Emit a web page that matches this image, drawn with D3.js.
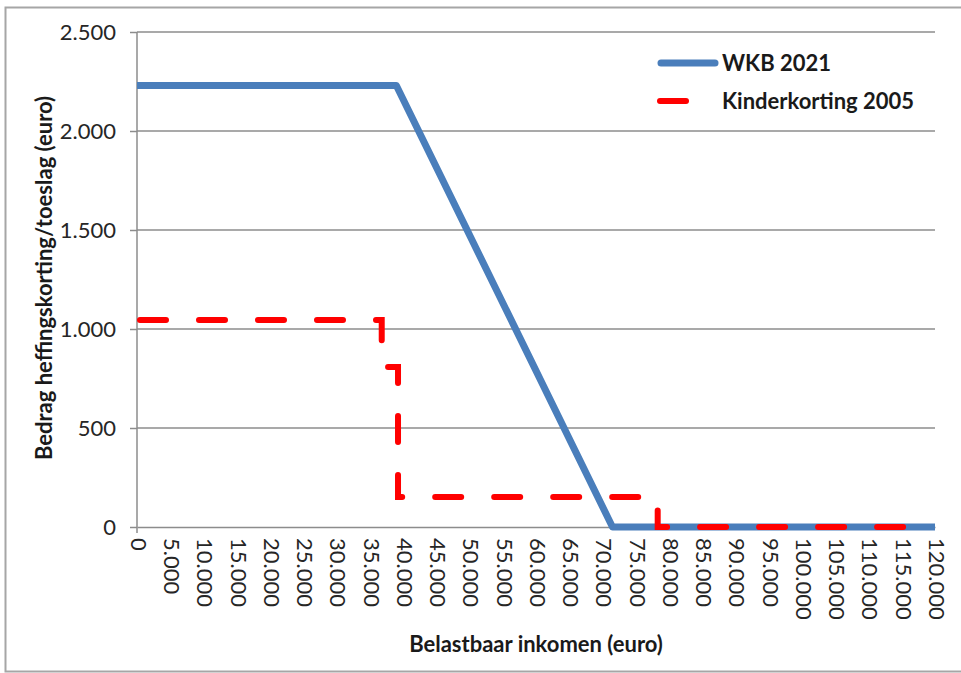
<!DOCTYPE html>
<html>
<head>
<meta charset="utf-8">
<script src="https://cdn.jsdelivr.net/npm/d3@7"></script>
<style>
  body { margin: 0; background: #fff; }
  svg { display: block; font-family: Lato, "Open Sans", sans-serif; }
</style>
</head>
<body>
<div id="chart"></div>
<script>
// WKB 2021 (werkelijke kindgebonden budget)
const wkbIncome = [0, 39000, 71500, 120000];
const wkbAmount = [2230, 2230, 0, 0];

// Kinderkorting 2005 (trapsgewijs)
const kkIncome = [0, 36800, 36800, 39250, 39250, 78300, 78300, 120000];
const kkAmount = [1045, 1045, 808, 808, 152, 152, 0, 0];

const xTicks = d3.range(0, 120001, 5000);
const yTicks = [0, 500, 1000, 1500, 2000, 2500];

const seriesNames = ["WKB 2021", "Kinderkorting 2005"];
const blue = "#4a7ebb", red = "#ff0000";

const width = 961, height = 673;
const margin = { top: 32, right: 26, bottom: 146, left: 137 };

const svg = d3.select("#chart").append("svg")
  .attr("width", width)
  .attr("height", height);

// chart frame
svg.append("rect")
  .attr("x", 5.5).attr("y", 7.5)
  .attr("width", width + 10).attr("height", 664)
  .attr("fill", "none")
  .attr("stroke", "#a6a6a6")
  .attr("stroke-width", 2);

const x = d3.scaleLinear().domain([0, 120000]).range([margin.left, width - margin.right]);
const y = d3.scaleLinear().domain([0, 2500]).range([height - margin.bottom, margin.top]);

const fmt = d => d3.format(",")(d).replace(/,/g, ".");

// gridlines
svg.append("g")
  .selectAll("line")
  .data(yTicks.filter(d => d > 0))
  .join("line")
  .attr("x1", x(0)).attr("x2", x(120000))
  .attr("y1", d => y(d)).attr("y2", d => y(d))
  .attr("stroke", "#8c8c8c")
  .attr("stroke-width", 1.5);

// y axis
const yAxis = svg.append("g")
  .attr("transform", `translate(${x(0)},0)`)
  .call(d3.axisLeft(y).tickValues(yTicks).tickFormat(fmt).tickSize(7).tickPadding(14).tickSizeOuter(0));
yAxis.select(".domain").attr("stroke", "#8c8c8c").attr("stroke-width", 1.5)
  .attr("d", `M0,${y(0) + 6}V${y(2500)}`);
yAxis.selectAll(".tick line").attr("stroke", "#8c8c8c").attr("stroke-width", 1.5);
yAxis.selectAll(".tick text")
  .attr("fill", "#262626")
  .style("font-size", "22px")
  .style("font-family", "Lato, sans-serif");

// x axis, labels turned a quarter clockwise
const xAxis = svg.append("g")
  .attr("transform", `translate(0,${y(0)})`)
  .call(d3.axisBottom(x).tickValues(xTicks).tickFormat(fmt).tickSize(0).tickSizeOuter(0));
xAxis.select(".domain").attr("stroke", "#8c8c8c").attr("stroke-width", 1.5);
xAxis.selectAll(".tick text")
  .attr("fill", "#262626")
  .style("font-size", "22px")
  .style("font-family", "Lato, sans-serif")
  .attr("text-anchor", "start")
  .attr("dy", "0.35em")
  .attr("y", 0)
  .attr("transform", "translate(1,11) rotate(90)");

// lines
const line = d3.line().x(d => x(d[0])).y(d => y(d[1]));

svg.append("path")
  .datum(wkbIncome.map((v, i) => [v, wkbAmount[i]]))
  .attr("fill", "none")
  .attr("stroke", blue)
  .attr("stroke-width", 7)
  .attr("stroke-linejoin", "round")
  .attr("d", line);

svg.append("path")
  .datum(kkIncome.map((v, i) => [v, kkAmount[i]]))
  .attr("fill", "none")
  .attr("stroke", red)
  .attr("stroke-width", 6)
  .attr("stroke-linecap", "round")
  .attr("stroke-dasharray", "26,33")
  .attr("stroke-dashoffset", -3)
  .attr("d", line);

// legend
const legend = svg.append("g").attr("transform", "translate(660,63)");
legend.append("line")
  .attr("x1", 1).attr("x2", 55).attr("y1", 0).attr("y2", 0)
  .attr("stroke", blue).attr("stroke-width", 7).attr("stroke-linecap", "round");
legend.append("line")
  .attr("x1", 0).attr("x2", 26).attr("y1", 38).attr("y2", 38)
  .attr("stroke", red).attr("stroke-width", 6).attr("stroke-linecap", "round");
legend.selectAll("text")
  .data(seriesNames)
  .join("text")
  .attr("x", 62)
  .attr("y", (d, i) => i * 38)
  .attr("dy", "0.35em")
  .attr("fill", "#1a1a1a")
  .style("font-size", "22px")
  .style("font-weight", "bold")
  .text(d => d);

// axis titles
svg.append("text")
  .attr("transform", `translate(52,${278}) rotate(-90)`)
  .attr("text-anchor", "middle")
  .attr("fill", "#1a1a1a")
  .style("font-size", "22px")
  .style("font-weight", "bold")
  .text("Bedrag heffingskorting/toeslag (euro)");

svg.append("text")
  .attr("x", 536)
  .attr("y", 652)
  .attr("text-anchor", "middle")
  .attr("fill", "#1a1a1a")
  .style("font-size", "22px")
  .style("font-weight", "bold")
  .text("Belastbaar inkomen (euro)");
</script>
</body>
</html>
